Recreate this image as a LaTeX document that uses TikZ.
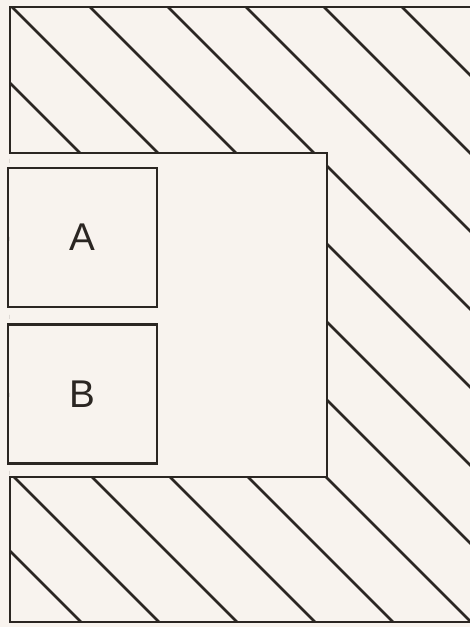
\documentclass[tikz,border=0pt]{standalone}
\usepackage{fontspec}
\setsansfont{Liberation Sans}
\usetikzlibrary{positioning}
\definecolor{paper}{HTML}{F8F3EE}
\definecolor{ink}{HTML}{2B2622}
\tikzset{
  outline/.style={draw=ink,line width=1.6pt,line join=miter},
  hatch/.style={draw=ink,line width=1.45pt},
  slot/.style={outline,rectangle,minimum width=2.98cm,minimum height=2.78cm,inner sep=0pt,
    font=\sffamily\fontsize{22}{26}\selectfont,text=ink}
}
\begin{document}
\begin{tikzpicture}[x=0.02cm,y=-0.02cm]
    \useasboundingbox[fill=paper] (0,0) rectangle (470,627);
    % hatched wall round the cavity
    \begin{scope}[even odd rule]
      \clip (10,7) rectangle (470,622) (10,153) rectangle (327,477);
      \foreach \c in {-7,...,5}
        \draw[hatch] ({5+78*\c},0) -- ++(660,660);
    \end{scope}
    \draw[outline] (470,7) -- (10,7) -- (10,153) -- (327,153) -- (327,477)
      -- (10,477) -- (10,622) -- (470,622);
    % the two boxes
    \node[slot] (A) at (82.5,237.5) {A};
    \node[slot,below=0.3cm of A] (B) {B};
  \end{tikzpicture}
\end{document}
